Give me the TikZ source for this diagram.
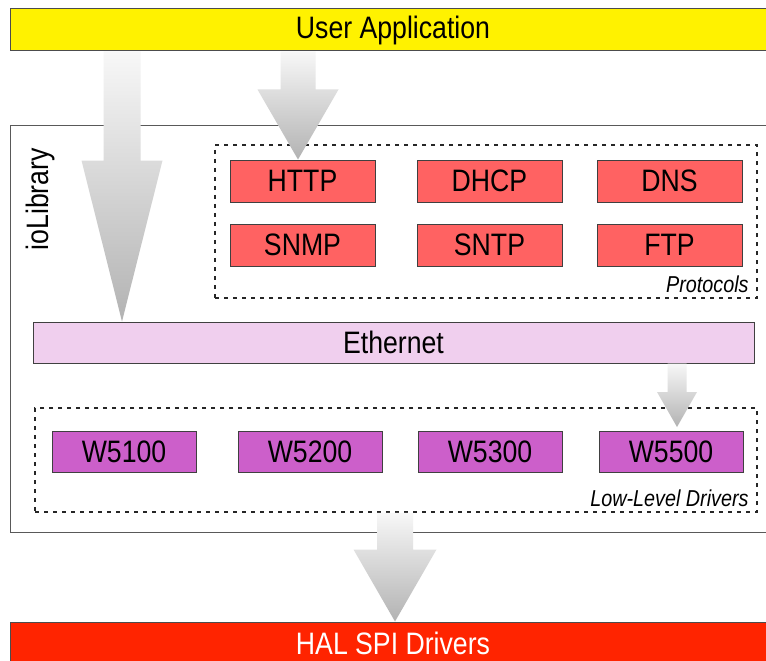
\documentclass[tikz,border=0pt]{standalone}
\usepackage{fontspec}
\setmainfont[FakeStretch=0.86]{Liberation Sans}
\usetikzlibrary{positioning,calc}
\definecolor{appyellow}{HTML}{FFF200}
\definecolor{protored}{HTML}{FF6262}
\definecolor{ethpink}{HTML}{F0CFEE}
\definecolor{drvpink}{HTML}{CC5FCA}
\definecolor{halred}{HTML}{FF2400}
\newcommand\fatarrow[6]{%
 \path[blockarrow] let \p1=(#2), \p2=(#3) in
 (#1pt-#4pt,\y1) -- (#1pt-#4pt,\y2+#6pt) -- (#1pt-#5pt,\y2+#6pt) -- (#1pt,\y2)
 -- (#1pt+#5pt,\y2+#6pt) -- (#1pt+#4pt,\y2+#6pt) -- (#1pt+#4pt,\y1) -- cycle;}

\begin{document}
\begin{tikzpicture}[x=1pt,y=-1pt,font=\fontsize{31}{36}\selectfont,
 bar/.style={draw=black!70,line width=1pt,minimum width=766pt,minimum height=42pt,inner sep=0pt},
 proto/.style={draw=black!75,line width=1pt,fill=protored,minimum width=145pt,minimum height=42pt,inner sep=0pt},
 drv/.style={draw=black!75,line width=1pt,fill=drvpink,minimum width=144pt,minimum height=41pt,inner sep=0pt},
 group/.style={draw=black!85,line width=1.6pt,dash pattern=on 4pt off 5pt,inner sep=0pt},
 tag/.style={font=\fontsize{23}{26}\selectfont\itshape,inner sep=0pt,anchor=south east},
 blockarrow/.style={top color=black!3,bottom color=black!30}]
\useasboundingbox (0,0) rectangle (766,661);
\clip (0,0) rectangle (766,661);
\fill[white] (0,0) rectangle (766,661);
\node[draw=black!65,line width=1pt,minimum width=790pt,minimum height=407pt] (iolib) at (405,328.5) {};
\node[rotate=90,anchor=base west] (iolabel) at (48,254) {ioLibrary};
\node[bar,fill=appyellow] (app) at (393,30) {User Application};
\node[bar,fill=halred,text=white] (hal) at (393,643) {HAL SPI Drivers};
\node[group,minimum width=542pt,minimum height=153pt] (protobox) at (486,221.5) {};
\node[tag] (prototag) at ([xshift=-9pt,yshift=6pt]protobox.south east) {Protocols};
\node[proto] (http) at (302.5,181) {HTTP};
\node[proto,right=41pt of http] (dhcp) {DHCP};
\node[proto,right=34pt of dhcp] (dns) {DNS};
\node[proto,below=21pt of http] (snmp) {SNMP};
\node[proto,below=21pt of dhcp] (sntp) {SNTP};
\node[proto,below=21pt of dns] (ftp) {FTP};
\node[draw=black!75,line width=1pt,fill=ethpink,minimum width=721pt,minimum height=41pt] (eth) at (393.5,342.5) {Ethernet};
\node[group,minimum width=722pt,minimum height=104pt] (lldbox) at (396,460) {};
\node[tag] (lldtag) at ([xshift=-9pt,yshift=6pt]lldbox.south east) {Low-Level Drivers};
\node[drv] (w5100) at (124,452) {W5100};
\node[drv,right=41pt of w5100] (w5200) {W5200};
\node[drv,right=35pt of w5200] (w5300) {W5300};
\node[drv,right=36pt of w5300] (w5500) {W5500};
\fatarrow{122}{app.south}{eth.north}{18.5}{40.5}{161}
\fatarrow{298}{app.south}{http.north}{17.5}{40.5}{70}
\fatarrow{677}{eth.south}{[yshift=4pt]w5500.north}{9.5}{20}{35}
\fatarrow{395}{lldbox.south}{hal.north}{18}{41.5}{72}
\end{tikzpicture}
\end{document}
